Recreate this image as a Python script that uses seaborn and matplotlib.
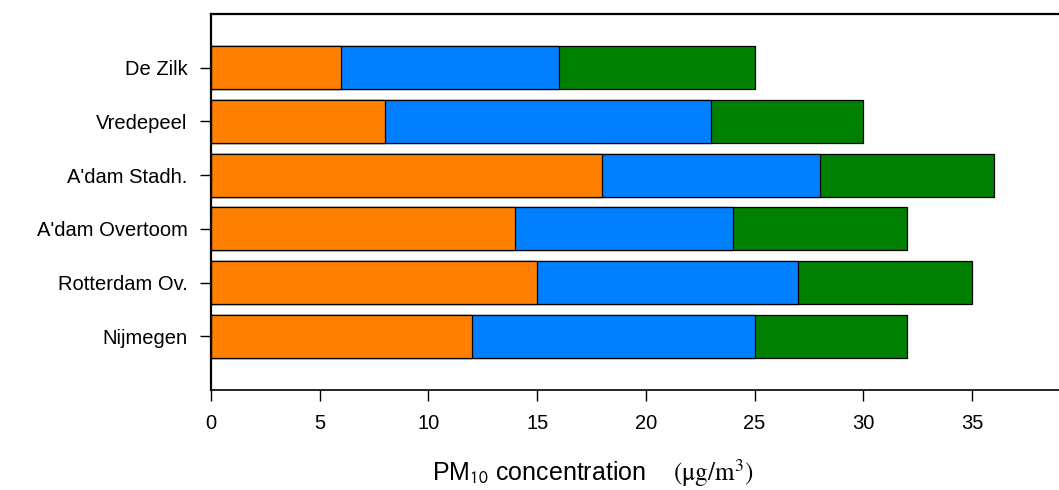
import matplotlib
matplotlib.use("Agg")
import matplotlib.pyplot as plt
import seaborn as sns
import numpy as np
import pandas as pd

# PM10 contributions per station (ug/m3)
stations = ["De Zilk", "Vredepeel", "A'dam Stadh.", "A'dam Overtoom", "Rotterdam Ov.", "Nijmegen"]
part_a = [6, 8, 18, 14, 15, 12]     # orange
part_b = [10, 15, 10, 10, 12, 13]   # blue
part_c = [9, 7, 8, 8, 8, 7]         # green
colors = ["#FF8000", "#0080FF", "#008000"]

sns.set_theme(style="white")
plt.rcParams["font.family"] = ["Liberation Sans", "DejaVu Sans"]
plt.rcParams["mathtext.fontset"] = "stix"
plt.rcParams["text.color"] = "black"
plt.rcParams["axes.labelcolor"] = "black"
plt.rcParams["xtick.color"] = "black"
plt.rcParams["ytick.color"] = "black"

df = pd.DataFrame({"station": stations, "a": part_a, "b": part_b, "c": part_c})
df["ab"] = df["a"] + df["b"]
df["abc"] = df["ab"] + df["c"]

fig = plt.figure(figsize=(10.59, 4.9), dpi=100)
ax = fig.add_axes([211 / 1059, 100 / 490, 848 / 1059, 376 / 490])

# stacked bars: draw cumulative totals back to front
for col, colr in zip(["abc", "ab", "a"], colors[::-1]):
    sns.barplot(data=df, x=col, y="station", orient="h", color=colr,
                saturation=1, width=0.8, edgecolor="black", linewidth=0.9, ax=ax)

ax.set_xlim(0, 39)
ax.set_ylim(6, -1)
ax.set_xticks(range(0, 40, 5))
ax.set_ylabel("")
ax.set_xlabel(r"PM$_{\mathsf{10}}$ concentration    $(\mathrm{\mu g/m^3})$", fontsize=18)
ax.xaxis.label.set_va("center")
ax.xaxis.set_label_coords(0.45, -0.222)
ax.tick_params(axis="both", labelsize=14.5, length=8, width=1, color="black",
               direction="out", bottom=True, left=True)
ax.tick_params(axis="x", pad=9)
ax.tick_params(axis="y", pad=9)
for s in ["left", "top", "bottom"]:
    ax.spines[s].set_visible(True)
    ax.spines[s].set_color("black")
ax.spines["left"].set_linewidth(1.6)
ax.spines["top"].set_linewidth(1.6)
ax.spines["bottom"].set_linewidth(1.2)
ax.spines["right"].set_visible(False)

fig.savefig("out.png", dpi=100)
